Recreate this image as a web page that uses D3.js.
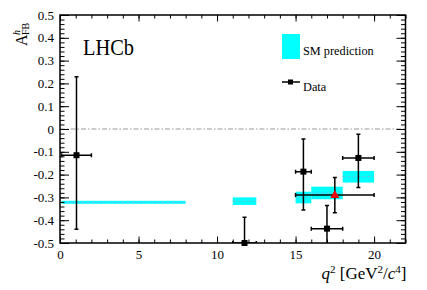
<!DOCTYPE html>
<html>
<head>
<meta charset="utf-8">
<script src="https://cdn.jsdelivr.net/npm/d3@7"></script>
<style>
  body { margin: 0; background: #fff; }
  svg { display: block; }
  text { font-family: "Liberation Serif", "Times New Roman", serif; fill: #000; }
  .axis path { display: none; }
  .axis line { stroke: #000; stroke-width: 1; }
  .axis text { font-size: 13px; }
</style>
</head>
<body>
<svg id="chart"></svg>
<script>
// Data points (q2 bin centre, bin edges, value, error bar ends)
var dataX   = [1.05, 11.75, 15.5, 17.0, 19.0];
var dataXLo = [0.1, 11.0, 15.0, 16.0, 18.0];
var dataXHi = [2.0, 12.5, 16.0, 18.0, 20.0];
var dataY   = [-0.115, -0.5, -0.187, -0.437, -0.127];
var dataYHi = [0.229, -0.387, -0.044, -0.335, -0.023];
var dataYLo = [-0.44, -0.6, -0.355, -0.6, -0.257];

// Wide bin 15-20 (red triangle)
var wideX   = [17.5];
var wideXLo = [15.0];
var wideXHi = [20.0];
var wideY   = [-0.289];
var wideYHi = [-0.213];
var wideYLo = [-0.367];

// SM prediction bands
var smXLo = [0.1, 11.0, 15.0, 16.0, 18.0];
var smXHi = [8.0, 12.5, 16.0, 18.0, 20.0];
var smLo  = [-0.328, -0.333, -0.326, -0.308, -0.235];
var smHi  = [-0.315, -0.300, -0.275, -0.253, -0.184];

// Tick values
var xMajor = [0, 5, 10, 15, 20];
var xMinor = d3.range(0, 23);
var yMajor = d3.range(-5, 6).map(function(i) { return i / 10; });
var yMinor = d3.range(-25, 26).map(function(i) { return i / 50; });

// SVG size params
var margin = {top: 15, right: 21.5, bottom: 47, left: 60};
var width = 427 - margin.left - margin.right;
var height = 290 - margin.top - margin.bottom;
var serif = "'Liberation Serif', 'Times New Roman', serif";

var svg = d3.select("#chart")
    .attr("width", 427)
    .attr("height", 290)
  .append("g")
    .attr("transform", "translate(" + margin.left + "," + margin.top + ")");

// Scales
var x = d3.scaleLinear().domain([0, 22]).range([0, width]);
var y = d3.scaleLinear().domain([-0.5, 0.5]).range([height, 0]);

// Clip for error bars
svg.append("clipPath").attr("id", "frame")
  .append("rect").attr("width", width).attr("height", height);

// Zero line
svg.append("line")
    .attr("x1", 0).attr("x2", width)
    .attr("y1", y(0)).attr("y2", y(0))
    .attr("stroke", "#9a9a9a")
    .attr("stroke-width", 1.2)
    .attr("stroke-dasharray", "5,2,1.5,2");

// SM bands
var sm = d3.range(smXLo.length).map(function(i) {
  return {x0: smXLo[i], x1: smXHi[i], lo: smLo[i], hi: smHi[i]};
});
svg.append("g").selectAll("rect")
  .data(sm)
  .enter().append("rect")
    .attr("x", d => x(d.x0))
    .attr("width", d => x(d.x1) - x(d.x0))
    .attr("y", d => y(d.hi))
    .attr("height", d => y(d.lo) - y(d.hi))
    .attr("fill", "#00ffff");
svg.append("g").selectAll("line")
  .data(sm)
  .enter().append("line")
    .attr("x1", d => x(d.x0))
    .attr("x2", d => x(d.x1))
    .attr("y1", d => y((d.lo + d.hi) / 2))
    .attr("y2", d => y((d.lo + d.hi) / 2))
    .attr("stroke", "#5cc6e6")
    .attr("stroke-width", 1)
    .attr("stroke-dasharray", "3,2");

// Error bars
function drawErrors(g, pts, color) {
  var cap = 2;
  var eb = g.append("g")
      .attr("clip-path", "url(#frame)")
      .attr("stroke", color)
      .attr("stroke-width", 1.5);
  pts.forEach(function(d) {
    eb.append("line")
        .attr("x1", x(d.xlo)).attr("x2", x(d.xhi))
        .attr("y1", y(d.y)).attr("y2", y(d.y));
    eb.append("line")
        .attr("x1", x(d.x)).attr("x2", x(d.x))
        .attr("y1", y(d.ylo)).attr("y2", y(d.yhi));
    [d.xlo, d.xhi].forEach(function(v) {
      eb.append("line")
          .attr("x1", x(v)).attr("x2", x(v))
          .attr("y1", y(d.y) - cap).attr("y2", y(d.y) + cap);
    });
    [d.ylo, d.yhi].forEach(function(v) {
      eb.append("line")
          .attr("x1", x(d.x) - cap).attr("x2", x(d.x) + cap)
          .attr("y1", y(v)).attr("y2", y(v));
    });
  });
}

var pts = d3.range(dataX.length).map(function(i) {
  return {x: dataX[i], xlo: dataXLo[i], xhi: dataXHi[i], y: dataY[i], ylo: dataYLo[i], yhi: dataYHi[i]};
});
var wide = d3.range(wideX.length).map(function(i) {
  return {x: wideX[i], xlo: wideXLo[i], xhi: wideXHi[i], y: wideY[i], ylo: wideYLo[i], yhi: wideYHi[i]};
});

drawErrors(svg, wide, "#000");
drawErrors(svg, pts, "#000");

// Markers
svg.append("g").selectAll("rect")
  .data(pts)
  .enter().append("rect")
    .attr("x", d => x(d.x) - 3)
    .attr("y", d => y(d.y) - 3)
    .attr("width", 6)
    .attr("height", 6)
    .attr("fill", "#000");
svg.append("g").selectAll("path")
  .data(wide)
  .enter().append("path")
    .attr("transform", d => "translate(" + x(d.x) + "," + y(d.y) + ")")
    .attr("d", "M0,-5L4.5,3L-4.5,3Z")
    .attr("fill", "#ee0000");

// Axes with inward ticks
var fmtY = function(d) { return d === 0 ? "0" : d.toFixed(1); };

function addAxis(axis, tx, ty) {
  svg.append("g").attr("class", "axis")
      .attr("transform", "translate(" + tx + "," + ty + ")")
      .call(axis)
      .attr("font-family", serif)
      .attr("font-size", 13);
}

addAxis(d3.axisBottom(x).tickValues(xMinor).tickSize(-3.5).tickFormat(""), 0, height);
addAxis(d3.axisBottom(x).tickValues(xMajor).tickSize(-6.5).tickPadding(7).tickFormat(d3.format("d")), 0, height);
addAxis(d3.axisTop(x).tickValues(xMinor).tickSize(-3.5).tickFormat(""), 0, 0);
addAxis(d3.axisTop(x).tickValues(xMajor).tickSize(-6.5).tickFormat(""), 0, 0);
addAxis(d3.axisLeft(y).tickValues(yMinor).tickSize(-4.5).tickFormat(""), 0, 0);
addAxis(d3.axisLeft(y).tickValues(yMajor).tickSize(-9).tickPadding(6).tickFormat(fmtY), 0, 0);
addAxis(d3.axisRight(y).tickValues(yMinor).tickSize(-4.5).tickFormat(""), width, 0);
addAxis(d3.axisRight(y).tickValues(yMajor).tickSize(-9).tickFormat(""), width, 0);

// Frame
svg.append("rect")
    .attr("width", width)
    .attr("height", height)
    .attr("fill", "none")
    .attr("stroke", "#000")
    .attr("stroke-width", 1.5);

// LHCb label
svg.append("text")
    .attr("x", 23)
    .attr("y", 40)
    .attr("font-size", "23px")
    .attr("textLength", 51)
    .attr("lengthAdjust", "spacingAndGlyphs")
    .text("LHCb");

// Legend
svg.append("rect")
    .attr("x", 222).attr("y", 19)
    .attr("width", 18).attr("height", 25)
    .attr("fill", "#00ffff");
svg.append("text")
    .attr("x", 243).attr("y", 40)
    .attr("font-size", "12.3px")
    .text("SM prediction");
svg.append("line")
    .attr("x1", 222).attr("x2", 240)
    .attr("y1", 67).attr("y2", 67)
    .attr("stroke", "#000").attr("stroke-width", 1.5);
svg.append("rect")
    .attr("x", 228).attr("y", 64.5)
    .attr("width", 5).attr("height", 5)
    .attr("fill", "#000");
svg.append("text")
    .attr("x", 243).attr("y", 75.5)
    .attr("font-size", "12.3px")
    .text("Data");

// X axis title
var xt = svg.append("text")
    .attr("x", width + 1)
    .attr("y", height + 36)
    .attr("text-anchor", "end")
    .attr("font-size", "17px");
xt.append("tspan").attr("font-style", "italic").text("q");
xt.append("tspan").attr("font-size", "11px").attr("dy", -6).text("2");
xt.append("tspan").attr("dy", 6).text(" [GeV");
xt.append("tspan").attr("font-size", "11px").attr("dy", -6).text("2");
xt.append("tspan").attr("dy", 6).text("/");
xt.append("tspan").attr("font-style", "italic").text("c");
xt.append("tspan").attr("font-size", "11px").attr("dy", -6).text("4");
xt.append("tspan").attr("dy", 6).text("]");

// Y axis title
var yt = d3.select("#chart").append("text")
    .attr("transform", "translate(27,46) rotate(-90)")
    .attr("font-size", "16px");
yt.append("tspan").attr("x", 0).attr("y", 0).text("A");
yt.append("tspan").attr("x", 11).attr("y", -7).attr("font-size", "10px").attr("font-style", "italic").text("h");
yt.append("tspan").attr("x", 11).attr("y", 2).attr("font-size", "10px").text("FB");
</script>
</body>
</html>
